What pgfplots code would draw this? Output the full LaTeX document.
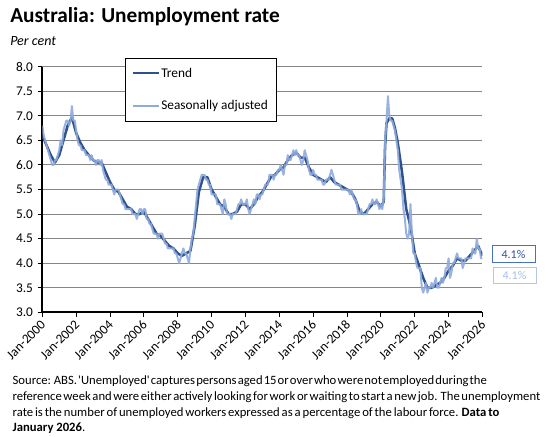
\documentclass[border=0pt]{standalone}
\usepackage{fontspec}
\setmainfont{Carlito}[Ligatures=TeXOff]
\usepackage{pgfplots}
\pgfplotsset{compat=1.18}
\usepackage{pgfplotstable}
\definecolor{trendc}{RGB}{47,82,143}
\definecolor{sac}{RGB}{143,170,220}
\definecolor{gridc}{RGB}{134,134,134}
\definecolor{boxa}{RGB}{68,114,196}
\definecolor{boxat}{RGB}{47,85,151}
\definecolor{boxb}{RGB}{180,199,231}
\definecolor{boxbt}{RGB}{169,191,230}

\pgfplotstableread{
sa
6.8
6.6
6.5
6.4
6.3
6.2
6.1
6.0
6.0
6.1
6.1
6.2
6.3
6.5
6.4
6.7
6.8
6.9
6.9
6.8
6.9
7.2
6.9
6.9
6.7
6.5
6.4
6.4
6.3
6.3
6.3
6.2
6.2
6.2
6.1
6.2
6.1
6.1
6.0
6.1
6.1
6.0
6.1
5.9
5.8
5.7
5.7
5.6
5.6
5.6
5.5
5.4
5.5
5.5
5.5
5.4
5.3
5.2
5.2
5.1
5.1
5.1
5.1
5.1
5.0
5.0
5.0
4.9
5.0
5.1
5.1
5.0
5.1
5.1
4.9
4.9
4.8
4.8
4.7
4.6
4.6
4.6
4.5
4.6
4.6
4.6
4.5
4.4
4.4
4.3
4.3
4.3
4.3
4.3
4.2
4.2
4.1
4.0
4.1
4.2
4.3
4.2
4.2
4.1
4.0
4.3
4.5
4.6
4.9
5.2
5.5
5.6
5.7
5.8
5.8
5.8
5.7
5.7
5.6
5.6
5.4
5.4
5.4
5.4
5.2
5.2
5.2
5.1
5.0
5.3
5.2
5.0
5.0
5.0
4.9
5.0
5.0
5.0
5.1
5.2
5.2
5.3
5.2
5.2
5.2
5.3
5.1
5.0
5.1
5.2
5.3
5.2
5.4
5.4
5.3
5.4
5.4
5.5
5.6
5.6
5.6
5.8
5.8
5.8
5.7
5.8
5.8
5.9
5.9
6.0
5.9
5.8
6.0
6.0
6.2
6.1
6.1
6.2
6.3
6.2
6.3
6.2
6.2
6.1
6.0
6.1
6.3
6.2
6.1
5.9
5.8
5.8
5.9
5.8
5.8
5.7
5.7
5.7
5.7
5.6
5.6
5.7
5.7
5.7
5.8
5.9
5.8
5.7
5.6
5.6
5.6
5.6
5.5
5.5
5.5
5.5
5.5
5.5
5.4
5.5
5.4
5.3
5.3
5.2
5.0
5.0
5.1
5.0
5.0
5.0
5.0
5.1
5.2
5.2
5.3
5.2
5.2
5.3
5.2
5.1
5.2
5.1
5.3
6.5
6.9
7.4
7.0
6.9
6.9
6.8
6.7
6.5
6.3
5.9
5.7
5.5
5.1
4.9
4.6
4.5
4.6
5.2
4.6
4.2
4.2
4.0
3.9
3.9
3.9
3.5
3.4
3.5
3.6
3.4
3.5
3.5
3.6
3.5
3.6
3.7
3.5
3.5
3.6
3.7
3.6
3.7
3.9
3.9
4.1
3.7
3.8
4.0
4.0
4.1
4.2
4.1
4.1
4.1
3.9
4.0
4.1
4.1
4.1
4.1
4.1
4.3
4.2
4.2
4.5
4.3
4.3
4.1
4.1
}\satable

\pgfplotstableread{
m t
0 6.6
3 6.4
6 6.2
9 6.05
12 6.2
15 6.5
18 6.8
21 6.97
24 6.65
27 6.45
30 6.3
33 6.2
36 6.1
39 6.05
42 6.05
45 5.85
48 5.65
51 5.5
54 5.45
57 5.3
60 5.15
63 5.1
66 5.0
69 5.0
72 5.05
75 4.9
78 4.75
81 4.6
84 4.55
87 4.45
90 4.35
93 4.3
96 4.2
99 4.15
102 4.2
105 4.25
108 4.75
111 5.45
114 5.75
117 5.75
120 5.5
123 5.35
126 5.2
129 5.15
132 5.0
135 5.0
138 5.05
141 5.2
144 5.2
147 5.1
150 5.2
153 5.35
156 5.45
159 5.6
162 5.75
165 5.8
168 5.9
171 5.95
174 6.1
177 6.2
180 6.25
183 6.15
186 6.15
189 5.95
192 5.8
195 5.75
198 5.7
201 5.65
204 5.75
207 5.65
210 5.6
213 5.55
216 5.5
219 5.45
222 5.3
225 5.05
228 5.0
231 5.1
234 5.2
237 5.25
240 5.15
242 5.25
243 6.4
244 6.85
245 6.9
246 6.95
248 6.95
250 6.75
252 6.45
255 5.85
258 5.1
261 4.75
264 4.2
267 3.95
270 3.7
273 3.5
276 3.5
279 3.55
282 3.6
285 3.7
288 3.85
291 3.95
294 4.1
297 4.05
300 4.05
303 4.15
306 4.25
309 4.35
312 4.15
}\trendtable

\begin{document}
\begin{tikzpicture}[x=0.75pt,y=0.75pt]
\path[use as bounding box] (0,0) rectangle (548,436);
\begin{axis}[
  at={(31.725pt,92.775pt)}, anchor=south west,
  scale only axis, width=330.1pt, height=184.2pt,
  xmin=0, xmax=312, ymin=3, ymax=8,
  axis x line*=bottom, axis y line*=left,
  axis line style={black, line width=1.3pt, -},
  ytick={3,3.5,4,4.5,5,5.5,6,6.5,7,7.5,8},
  yticklabel style={/pgf/number format/fixed, /pgf/number format/fixed zerofill, /pgf/number format/precision=1, /pgf/number format/assume math mode=true},
  y tick label style={font=\fontsize{10}{12}\selectfont},
  ymajorgrids, major grid style={gridc, line width=0.75pt},
  tick align=outside, major tick length=3.5pt,
  tick style={black, line width=0.75pt},
  xtick={0,24,...,312},
  xticklabels={Jan-2000,Jan-2002,Jan-2004,Jan-2006,Jan-2008,Jan-2010,Jan-2012,Jan-2014,Jan-2016,Jan-2018,Jan-2020,Jan-2022,Jan-2024,Jan-2026},
  x tick label style={rotate=45, anchor=east, font=\fontsize{10}{12}\selectfont, xshift=1pt, yshift=-3.5pt},
]
\addplot[trendc, line width=1.9pt, line join=round] table[x=m, y=t]{\trendtable};
\addplot[sac, line width=1.5pt, opacity=0.9, line join=round] table[x expr=\coordindex, y=sa]{\satable};
\end{axis}
% title
\node[anchor=base west, inner sep=0, font=\fontsize{16}{19}\selectfont\bfseries] at (10,413.3) {Australia: Unemployment rate};
\node[anchor=base west, inner sep=0, font=\fontsize{10.5}{12}\selectfont\itshape] at (10,390.5) {Per cent};
% legend
\draw[black, line width=0.6pt, fill=white] (125,378) rectangle (276,315);
\draw[trendc, line width=1.9pt] (133,363) -- (159,363);
\node[anchor=west, inner sep=0] at (161,363) {\fontsize{10}{12}\selectfont Trend};
\draw[sac, line width=1.5pt] (133,330) -- (159,330);
\node[anchor=west, inner sep=0] at (161,330) {\fontsize{10}{12}\selectfont Seasonally adjusted};
% end labels
\node[draw=boxa, line width=0.6pt, text=boxat, minimum width=32.25pt, minimum height=12.4pt, inner sep=0, font=\fontsize{9}{10}\selectfont] at (513.5,182) {4.1\%};
\node[draw=boxb, line width=0.6pt, text=boxbt, minimum width=32.25pt, minimum height=12.4pt, inner sep=0, font=\fontsize{9}{10}\selectfont] at (514.5,160.7) {4.1\%};
% footnote
\begin{scope}[every node/.style={anchor=base west, inner sep=0, font=\fontsize{9.5}{11}\selectfont}]
\node at (12.4,51.2) {\spaceskip=0.2em plus 1em minus 0.15em\makebox[355.7pt][s]{Source: ABS.  'Unemployed' captures persons aged 15 or over who were not employed during the}};
\node at (12.4,35.3) {\spaceskip=0.2em plus 1em minus 0.15em\makebox[395.7pt][s]{reference week and were either actively looking for work or waiting to start a new job. The unemployment}};
\node at (12.4,19.3) {\spaceskip=0.2em plus 1em minus 0.15em\makebox[365pt][s]{rate is the number of unemployed workers expressed as a percentage of the labour force. \textbf{Data to}}};
\node at (12.4,4.1) {\textbf{January 2026}.};
\end{scope}
\end{tikzpicture}
\end{document}
